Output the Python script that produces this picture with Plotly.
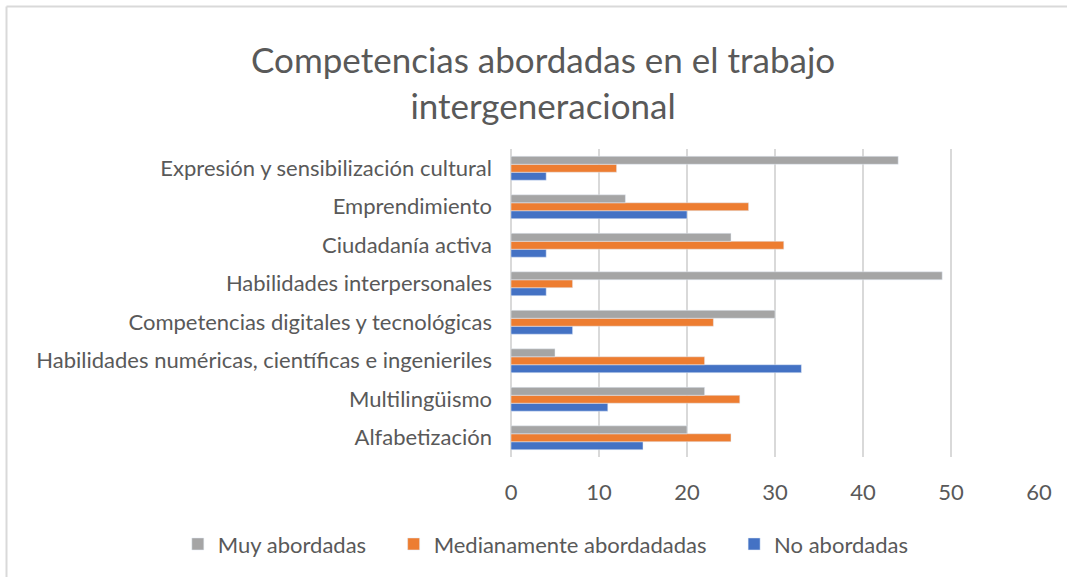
import plotly.graph_objects as go

# datos (de abajo hacia arriba)
categorias = [
    "Alfabetización",
    "Multilingüismo",
    "Habilidades numéricas, científicas e ingenieriles",
    "Competencias digitales y tecnológicas",
    "Habilidades interpersonales",
    "Ciudadanía activa",
    "Emprendimiento",
    "Expresión y sensibilización cultural",
]
no_abordadas = [15, 11, 33, 7, 4, 4, 20, 4]
medianamente = [25, 26, 22, 23, 7, 31, 27, 12]
muy_abordadas = [20, 22, 5, 30, 49, 25, 13, 44]

gris_texto = "#595959"
fuente = "Lato"
relleno = "\u00a0" * 4  # espacio extra entre entradas de la leyenda

fig = go.Figure()

# orden de trazas: azul abajo, gris arriba dentro de cada grupo
fig.add_trace(go.Bar(y=categorias, x=no_abordadas, orientation="h",
                     name="No abordadas", marker_color="#4472C4"))
fig.add_trace(go.Bar(y=categorias, x=medianamente, orientation="h",
                     name="Medianamente abordadadas" + relleno, marker_color="#ED7D31"))
fig.add_trace(go.Bar(y=categorias, x=muy_abordadas, orientation="h",
                     name="Muy abordadas" + relleno, marker_color="#A5A5A5"))

fig.update_layout(
    width=1067, height=577,
    margin=dict(l=511, r=28, t=149, b=120, autoexpand=False),
    paper_bgcolor="white", plot_bgcolor="white",
    barmode="group", bargap=0.38, bargroupgap=0,
    font=dict(family=fuente, color=gris_texto, size=22),
    title=dict(text="Competencias abordadas en el trabajo<br>intergeneracional",
               x=0.509, xanchor="center", y=0.873, yanchor="middle",
               font=dict(family=fuente, size=35, color=gris_texto)),
    # leyenda debajo del gráfico, anclada a la izquierda para que no se parta
    legend=dict(orientation="h", traceorder="reversed",
                x=-0.631, xanchor="left", y=-0.283, yanchor="middle",
                font=dict(size=22, color=gris_texto),
                itemwidth=30, bgcolor="rgba(0,0,0,0)"),
    showlegend=True,
)

fig.update_xaxes(range=[0, 60], dtick=10, showgrid=True, gridcolor="#D9D9D9",
                 gridwidth=1.5, zeroline=True, zerolinecolor="#D9D9D9",
                 zerolinewidth=1.5, showline=False, ticks="",
                 ticklabelstandoff=20, tickfont=dict(size=22))
fig.update_yaxes(showgrid=False, showline=False, ticks="",
                 ticklabelstandoff=18, tickfont=dict(size=22))

# borde del área del gráfico (solo arriba e izquierda visibles)
fig.add_shape(type="line", xref="paper", yref="paper",
              x0=-0.9555, x1=1.06, y0=1.463, y1=1.463,
              line=dict(color="#D9D9D9", width=2))
fig.add_shape(type="line", xref="paper", yref="paper",
              x0=-0.9555, x1=-0.9555, y0=1.463, y1=-0.4,
              line=dict(color="#D9D9D9", width=2))

fig.write_html("out.html", config={"displayModeBar": False},
               post_script="document.body.style.margin='0';")
